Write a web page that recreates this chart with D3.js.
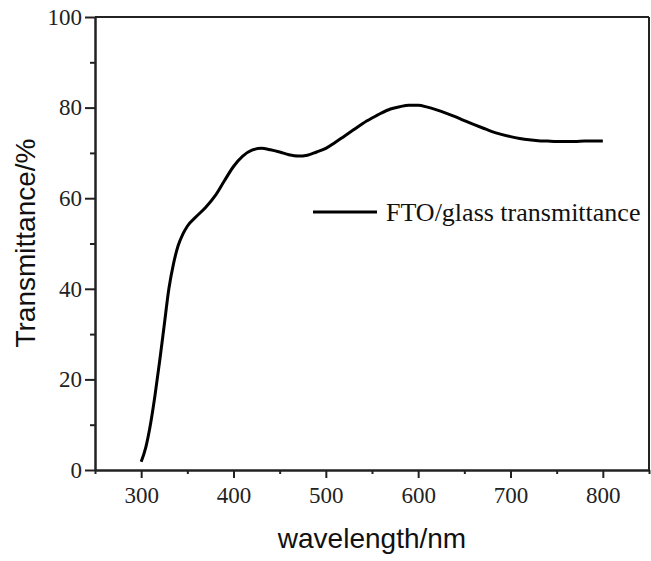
<!DOCTYPE html>
<html>
<head>
<meta charset="utf-8">
<script src="https://cdn.jsdelivr.net/npm/d3@7"></script>
<style>
  body { margin: 0; background: #fff; }
  .tick text { font-family: "Liberation Serif", "Times New Roman", serif; font-size: 23px; fill: #222; }
  .title { font-family: "Liberation Sans", Arial, sans-serif; font-size: 28px; fill: #111; }
  .legend { font-family: "Liberation Serif", "Times New Roman", serif; font-size: 26px; fill: #111; }
</style>
</head>
<body>
<script>
// Data
var wavelength = [300, 305, 310, 315, 320, 325, 330, 335, 340, 345, 350, 360, 370, 380, 390, 400, 410, 420, 430, 440, 450, 460, 470, 480, 490, 500, 510, 520, 530, 540, 550, 560, 570, 580, 590, 600, 610, 620, 630, 640, 650, 660, 670, 680, 690, 700, 710, 720, 730, 740, 750, 760, 770, 780, 790, 800];
var transmittance = [1.8, 5, 10, 16.5, 24, 32, 40, 45.5, 49.5, 52, 53.8, 56, 58, 60.5, 63.8, 67, 69.3, 70.6, 71, 70.7, 70.2, 69.6, 69.3, 69.5, 70.2, 71, 72.3, 73.7, 75.1, 76.5, 77.7, 78.8, 79.7, 80.2, 80.5, 80.5, 80.1, 79.5, 78.8, 78, 77.1, 76.3, 75.5, 74.7, 74.1, 73.6, 73.2, 72.9, 72.7, 72.6, 72.5, 72.5, 72.5, 72.6, 72.6, 72.6];
var xTicks = [300, 400, 500, 600, 700, 800];
var xMinorTicks = [250, 350, 450, 550, 650, 750, 850];
var yTicks = [0, 20, 40, 60, 80, 100];
var yMinorTicks = [10, 30, 50, 70, 90];
var seriesName = "FTO/glass transmittance";

function draw()
{
    //Settings
    var width = 651;
    var height = 561;
    var mLeft = 95, mRight = 649, mTop = 17, mBottom = 470;

    var svg = d3.select("body").append("svg").attr("width", width).attr("height", height);

    var x = d3.scaleLinear().domain([250, 850]).range([mLeft, mRight]);
    var y = d3.scaleLinear().domain([0, 100]).range([mBottom, mTop]);

    //Frame (top + right)
    svg.append("line").attr("x1", mLeft).attr("x2", mRight).attr("y1", mTop).attr("y2", mTop).attr("stroke", "#222").attr("stroke-width", 2);
    svg.append("line").attr("x1", mRight).attr("x2", mRight).attr("y1", mTop).attr("y2", mBottom).attr("stroke", "#222").attr("stroke-width", 2);

    //X axis
    svg.append("g").attr("transform", "translate(0," + mBottom + ")")
        .call(d3.axisBottom(x).tickValues(xTicks).tickSize(8).tickPadding(9).tickSizeOuter(0));
    svg.append("g").attr("transform", "translate(0," + mBottom + ")")
        .call(d3.axisBottom(x).tickValues(xMinorTicks).tickSize(4).tickFormat("").tickSizeOuter(0));

    //Y axis
    svg.append("g").attr("transform", "translate(" + mLeft + ",0)")
        .call(d3.axisLeft(y).tickValues(yTicks).tickSize(10).tickPadding(3).tickSizeOuter(0));
    svg.append("g").attr("transform", "translate(" + mLeft + ",0)")
        .call(d3.axisLeft(y).tickValues(yMinorTicks).tickSize(5).tickFormat("").tickSizeOuter(0));

    svg.selectAll(".domain").attr("stroke", "#222").attr("stroke-width", 2);
    svg.selectAll(".tick line").attr("stroke", "#222").attr("stroke-width", 2);

    //Titles
    svg.append("text").attr("class", "title").attr("x", 372).attr("y", 548).attr("text-anchor", "middle").text("wavelength/nm");
    svg.append("text").attr("class", "title").attr("transform", "translate(35,243) rotate(-90)").attr("text-anchor", "middle").text("Transmittance/%");

    //Curve
    var line = d3.line().x(function(d, i) { return x(wavelength[i]); }).y(function(d) { return y(d); }).curve(d3.curveMonotoneX);
    svg.append("path").datum(transmittance).attr("d", line).attr("fill", "none").attr("stroke", "#000").attr("stroke-width", 3).attr("stroke-linejoin", "round");

    //Legend
    svg.append("line").attr("x1", 313).attr("x2", 377).attr("y1", 212).attr("y2", 212).attr("stroke", "#000").attr("stroke-width", 3);
    svg.append("text").attr("class", "legend").attr("x", 386).attr("y", 221).text(seriesName);
}

draw();
</script>
</body>
</html>
